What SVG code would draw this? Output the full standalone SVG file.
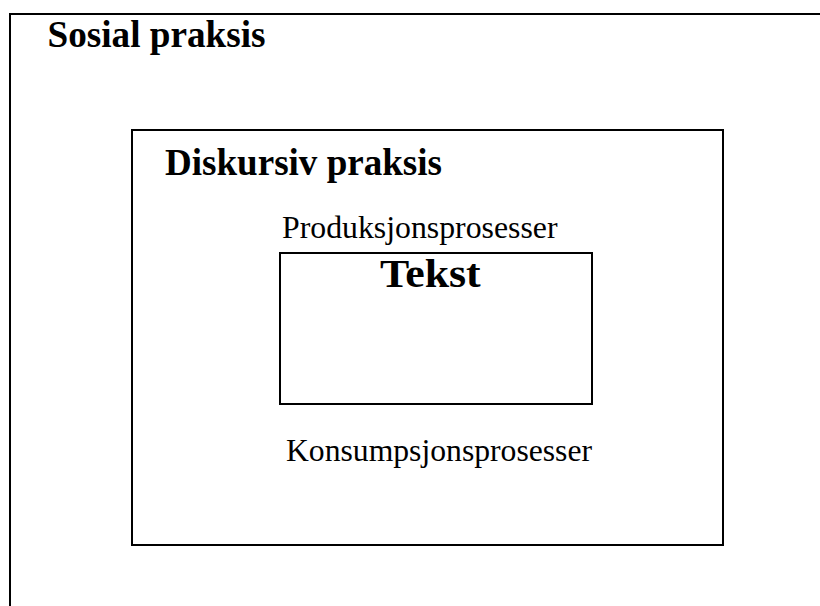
<svg xmlns="http://www.w3.org/2000/svg" width="820" height="606" viewBox="0 0 820 606">
<style>
.box{fill:none;stroke:#000;stroke-width:2}
.t{font-family:"Liberation Serif","Times New Roman",serif;fill:#000}
.b{font-weight:bold;font-size:37px}
.r{font-size:32px}
</style>
<rect width="820" height="606" fill="#fff"/>
<g id="sosial-praksis">
<rect class="box" x="10" y="14" width="900" height="700"/>
<text class="t b" x="47.5" y="47" textLength="218" lengthAdjust="spacingAndGlyphs">Sosial praksis</text>
</g>
<g id="diskursiv-praksis">
<rect class="box" x="132" y="130" width="591" height="415"/>
<text class="t b" x="165" y="175" textLength="277" lengthAdjust="spacingAndGlyphs">Diskursiv praksis</text>
<text class="t r" x="282" y="238" textLength="275.5" lengthAdjust="spacingAndGlyphs">Produksjonsprosesser</text>
<text class="t r" x="286" y="461" textLength="306" lengthAdjust="spacingAndGlyphs">Konsumpsjonsprosesser</text>
</g>
<g id="tekst">
<rect class="box" x="280" y="253" width="312" height="151"/>
<text class="t b" x="380" y="287.3" textLength="100.7" lengthAdjust="spacingAndGlyphs" style="font-size:41px">Tekst</text>
</g>
<g id="connectors"/>
</svg>
